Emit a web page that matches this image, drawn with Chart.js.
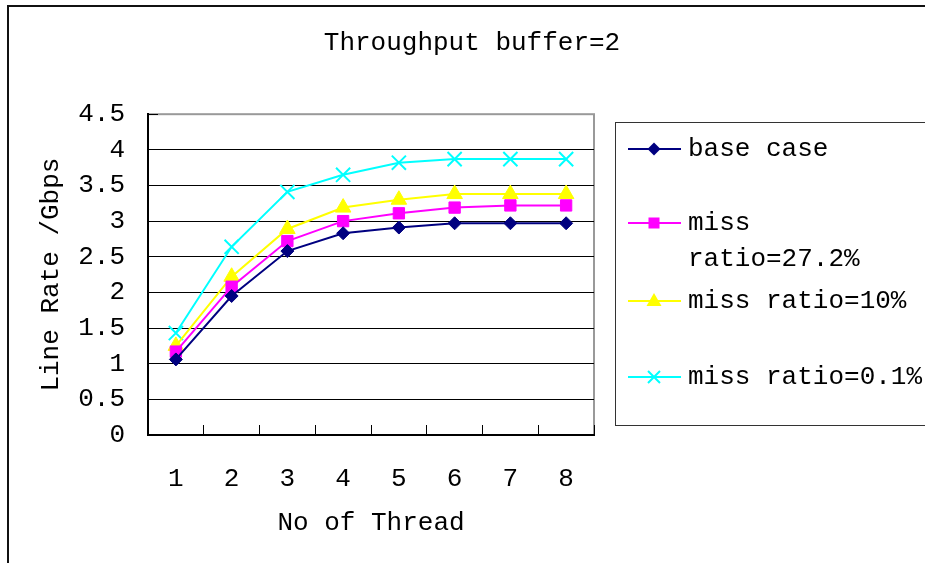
<!DOCTYPE html>
<html><head><meta charset="utf-8">
<script src="https://cdn.jsdelivr.net/npm/chart.js@4/dist/chart.umd.min.js"></script>
<style>
html,body{margin:0;padding:0;background:#fff;}
#wrap{position:relative;width:925px;height:563px;overflow:hidden;font-family:"Liberation Mono",monospace;background:#fff;}
#frame{position:absolute;left:7px;top:5px;width:940px;height:580px;border-left:2px solid #111;border-top:2px solid #111;pointer-events:none;}
canvas{position:absolute;left:0;top:0;}
#legend{position:absolute;left:615px;top:122px;width:400px;height:304px;border:1px solid #333;box-sizing:border-box;}
.entry{position:absolute;left:0;width:390px;height:80px;}
.entry svg{position:absolute;left:11px;top:0;}
.entry .txt{position:absolute;left:72px;top:0;width:238px;font-size:26px;line-height:36px;color:#000;}
</style>
</head><body>
<div id="wrap">
<canvas id="c" width="925" height="563"></canvas>
<div id="frame"></div>
<div id="legend"></div>
</div>
<script>
const chartTitle = 'Throughput buffer=2';
const xTitle = 'No of Thread';
const yTitle = 'Line Rate /Gbps';
const threads = ['1','2','3','4','5','6','7','8'];
const seriesNames = ['base case','miss ratio=27.2%','miss ratio=10%','miss ratio=0.1%'];
const baseCase = [1.06, 1.95, 2.58, 2.83, 2.91, 2.97, 2.97, 2.97];
const miss272 = [1.17, 2.08, 2.72, 3.00, 3.11, 3.19, 3.22, 3.22];
const miss10  = [1.25, 2.22, 2.89, 3.19, 3.30, 3.38, 3.38, 3.38];
const miss01  = [1.43, 2.64, 3.41, 3.65, 3.82, 3.87, 3.87, 3.87];

const FONT = '"Liberation Mono", monospace';
const font = {family: FONT, size: 26, weight: 'normal'};

const styles = [
  {color:'#000080', pointStyle:'rectRot', radius:6.5, bw:1},
  {color:'#FF00FF', pointStyle:'rect', radius:8, bw:1},
  {color:'#FFFF00', pointStyle:'triangle', radius:9, bw:1},
  {color:'#00FFFF', pointStyle:'crossRot', radius:10, bw:2}
];
const values = [baseCase, miss272, miss10, miss01];

const datasets = values.map((v,i)=>({
  label: seriesNames[i],
  data: v,
  borderColor: styles[i].color,
  backgroundColor: styles[i].color,
  borderWidth: 2,
  tension: 0,
  pointStyle: styles[i].pointStyle,
  pointRadius: styles[i].radius,
  pointBackgroundColor: styles[i].color,
  pointBorderColor: styles[i].color,
  pointBorderWidth: styles[i].bw,
  fill: false
}));

const areaBorder = {
  id:'areaBorder',
  beforeDraw(chart){
    const {ctx, chartArea:a} = chart;
    ctx.save();
    ctx.strokeStyle = '#999';
    ctx.lineWidth = 2;
    ctx.strokeRect(a.left, a.top, a.right - a.left, a.bottom - a.top);
    ctx.restore();
  }
};

new Chart(document.getElementById('c'), {
  type:'line',
  data:{labels: threads, datasets},
  options:{
    responsive:false, animation:false, devicePixelRatio:1,
    layout:{padding:{left:30, right:11, top:10, bottom:0}},
    plugins:{
      legend:{display:false}, tooltip:{enabled:false},
      title:{display:true, text:chartTitle, color:'#000', font, padding:{top:18, bottom:55}}
    },
    scales:{
      x:{
        offset:true,
        grid:{display:true, drawOnChartArea:false, drawTicks:true, tickLength:-10, color:'#000', offset:true},
        border:{color:'#000', width:2},
        ticks:{color:'#000', font, padding:39, maxRotation:0},
        title:{display:true, text:xTitle, color:'#000', font, padding:{top:0, bottom:24}},
        afterFit(s){ s.height = 128; }
      },
      y:{
        min:0, max:4.5,
        ticks:{stepSize:0.5, color:'#000', font, padding:33, callback:(v)=>String(v)},
        grid:{color:(c)=> (c.tick && c.tick.value === 4.5) ? '#999' : '#000', tickColor:'#000', tickLength:-10, lineWidth:1},
        border:{color:'#000', width:2},
        title:{display:true, text:yTitle, color:'#000', font, padding:{top:6, bottom:0}},
        afterFit(s){ s.width = 118; }
      },
      legendSpace:{
        type:'linear', position:'right', display:true,
        ticks:{display:false}, grid:{display:false, drawTicks:false}, border:{display:false},
        afterFit(s){ s.width = 320; }
      }
    }
  },
  plugins:[areaBorder]
});

// HTML legend
const legendRows = [26, 100, 178, 254];
const legend = document.getElementById('legend');
function markerSvg(st){
  const c = st.color, cx = 27, cy = 18;
  let m = '';
  if (st.pointStyle === 'rectRot') m = `<polygon points="${cx},${cy-6.5} ${cx+6.5},${cy} ${cx},${cy+6.5} ${cx-6.5},${cy}" fill="${c}"/>`;
  else if (st.pointStyle === 'rect') m = `<rect x="${cx-5.5}" y="${cy-5.5}" width="11" height="11" fill="${c}"/>`;
  else if (st.pointStyle === 'triangle') m = `<polygon points="${cx},${cy-8} ${cx+7.5},${cy+5} ${cx-7.5},${cy+5}" fill="${c}"/>`;
  else m = `<path d="M${cx-6},${cy-6} L${cx+6},${cy+6} M${cx+6},${cy-6} L${cx-6},${cy+6}" stroke="${c}" stroke-width="2"/>`;
  return `<svg width="56" height="36"><line x1="1" y1="${cy}" x2="54" y2="${cy}" stroke="${c}" stroke-width="2"/>${m}</svg>`;
}
datasets.forEach((d,i)=>{
  const e = document.createElement('div');
  e.className = 'entry';
  e.style.top = (legendRows[i] - 18) + 'px';
  e.innerHTML = markerSvg(styles[i]) + `<div class="txt">${d.label}</div>`;
  legend.appendChild(e);
});
</script>
</body></html>
